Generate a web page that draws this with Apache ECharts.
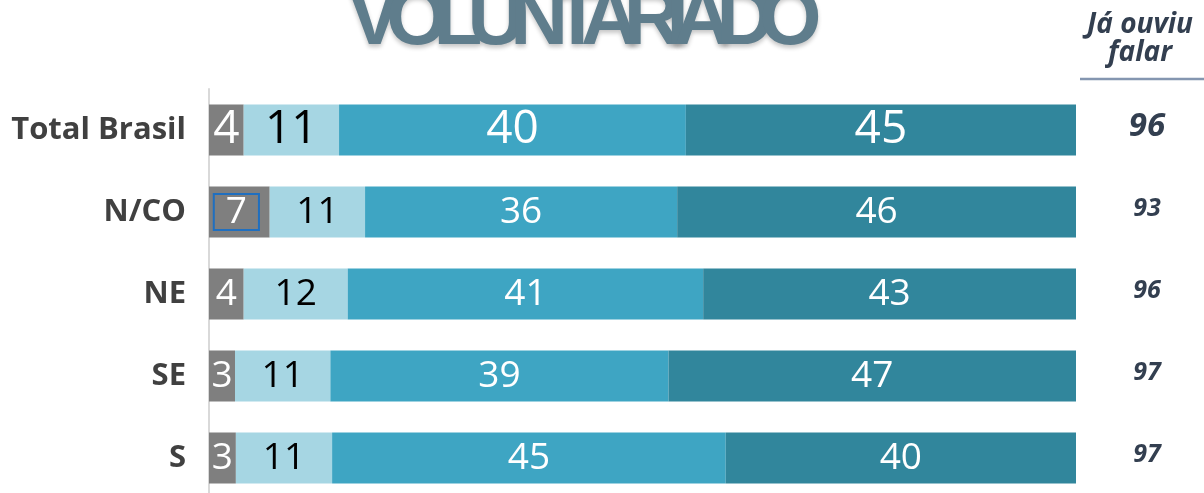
<!DOCTYPE html>
<html>
<head>
<meta charset="utf-8">
<script src="https://cdn.jsdelivr.net/npm/echarts@6/dist/echarts.min.js"></script>
<style>
  html, body { margin: 0; padding: 0; background: #fff; overflow: hidden; }
  #wrap { position: relative; width: 1204px; height: 493px; }
  #box { width: 1204px; height: 493px; }
  #title {
    position: absolute; left: 348px; top: -23px;
    font-family: "Liberation Sans", Arial, sans-serif; font-weight: bold;
    font-size: 80px; line-height: 80px; letter-spacing: -15px;
    color: #5f7d8c; white-space: nowrap;
    text-shadow: 0 3px 4px rgba(0,0,0,0.22);
  }
</style>
</head>
<body>
<div id="wrap">
  <div id="box"></div>
  <div id="title">VOLUNTARIADO</div>
</div>
<script>
var categories = ['Total Brasil', 'N/CO', 'NE', 'SE', 'S'];
var grayVals  = [4, 7, 4, 3, 3.1];
var lightVals = [11, 11, 12, 11, 11.1];
var midVals   = [40, 36, 41, 39, 45.4];
var darkVals  = [45, 46, 43, 47, 40.4];
var heardVals = ['96', '93', '96', '97', '97'];

var dom = document.getElementById('box');
var myChart = echarts.init(dom);

function items(vals, color, extra) {
    return vals.map(function (v, i) {
        var lab = { color: color, fontSize: i === 0 ? 46 : 37 };
        if (extra && extra[i]) {
            for (var k in extra[i]) lab[k] = extra[i][k];
        }
        return { value: v, label: lab };
    });
}

function barSeries(name, vals, fill, labelColor, extra) {
    return {
        name: name,
        type: 'bar',
        stack: 'total',
        barWidth: 51,
        itemStyle: { color: fill },
        label: {
            show: true,
            position: 'inside',
            fontFamily: 'Open Sans',
            formatter: function (p) { return Math.round(p.value); }
        },
        data: items(vals, labelColor, extra)
    };
}

var option = {
    animation: false,
    grid: { left: 209, right: 128, top: 89, bottom: -6, outerBoundsMode: 'none' },
    xAxis: { type: 'value', min: 0, max: 100, show: false },
    yAxis: [
        {
            type: 'category',
            inverse: true,
            data: categories,
            axisLine: { show: true, lineStyle: { color: '#d9d9d9', width: 2 } },
            axisTick: { show: false },
            axisLabel: {
                margin: 23,
                fontFamily: 'Open Sans',
                fontWeight: 'bold',
                fontSize: 31,
                color: '#404040'
            }
        },
        {
            type: 'category',
            inverse: true,
            position: 'right',
            data: heardVals,
            axisLine: { show: false },
            axisTick: { show: false },
            axisLabel: {
                margin: 71,
                align: 'center',
                formatter: function (v, i) { return i === 0 ? '{big|' + v + '}' : '{small|' + v + '}'; },
                rich: {
                    big: { fontFamily: 'Open Sans', fontWeight: 'bold', fontStyle: 'italic', fontSize: 33, color: '#333f50', padding: [0, 0, 6, 0] },
                    small: { fontFamily: 'Open Sans', fontWeight: 'bold', fontStyle: 'italic', fontSize: 25, color: '#333f50', padding: [0, 0, 6, 0] }
                }
            }
        }
    ],
    graphic: [
        {
            type: 'text',
            x: 1140, y: 11,
            style: {
                text: 'Já ouviu\nfalar',
                textAlign: 'center',
                textVerticalAlign: 'top',
                fontFamily: 'Open Sans',
                fontWeight: 'bold',
                fontStyle: 'italic',
                fontSize: 28,
                lineHeight: 28,
                fill: '#333f50'
            }
        },
        {
            type: 'line',
            shape: { x1: 1080, y1: 79, x2: 1204, y2: 79 },
            style: { stroke: '#8496b0', lineWidth: 2.5 }
        }
    ],
    series: [
        barSeries('gray', grayVals, '#7f7f7f', '#ffffff', {
            1: { borderColor: '#1f6fc0', borderWidth: 2, padding: [2, 12, 2, 12], lineHeight: 32, offset: [-3, 0] }
        }),
        barSeries('light', lightVals, '#a6d6e3', '#000000'),
        barSeries('mid', midVals, '#3ea5c3', '#ffffff'),
        barSeries('dark', darkVals, '#31869c', '#ffffff')
    ]
};

if (option && typeof option === 'object') {
    myChart.setOption(option, true);
}
</script>
</body>
</html>
